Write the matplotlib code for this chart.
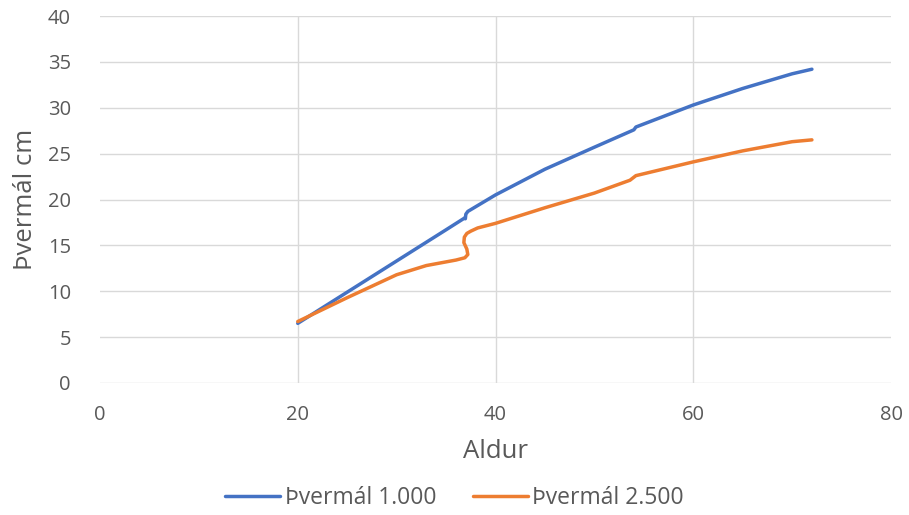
import matplotlib.pyplot as plt

# Aldur (x) og þvermál (y) fyrir tvær þéttleikaraðir
aldur_1000 = [20, 25, 30, 35, 36.9, 36.95, 37.0, 37.2, 40, 45, 50, 53.8, 54.0, 54.2, 60, 65, 70, 72]
tverm_1000 = [6.5, 9.9, 13.3, 16.7, 18.0, 17.9, 18.4, 18.7, 20.5, 23.3, 25.7, 27.5, 27.6, 27.9, 30.3, 32.1, 33.7, 34.2]

aldur_2500 = [20, 25, 30, 33, 36.0, 36.9, 37.2, 37.1, 36.8, 36.85, 37.1, 37.5, 38.2, 40, 45, 50, 53.6, 54.2, 60, 65, 70, 72]
tverm_2500 = [6.7, 9.3, 11.8, 12.8, 13.4, 13.65, 14.0, 14.6, 15.3, 15.9, 16.3, 16.55, 16.9, 17.4, 19.1, 20.7, 22.1, 22.6, 24.1, 25.3, 26.3, 26.5]

x_ticks = [0, 20, 40, 60, 80]
y_ticks = [0, 5, 10, 15, 20, 25, 30, 35, 40]

plt.rcParams['font.family'] = ['Open Sans', 'DejaVu Sans']
grey = '#595959'

fig = plt.figure(figsize=(9.09, 5.15), dpi=100)
ax = fig.add_axes([100 / 909, 1 - 383 / 515, 791 / 909, 367 / 515])

ax.plot(aldur_1000, tverm_1000, color='#4472C4', lw=2.5, label='Þvermál 1.000',
        solid_joinstyle='round', solid_capstyle='round')
ax.plot(aldur_2500, tverm_2500, color='#ED7D31', lw=2.5, label='Þvermál 2.500',
        solid_joinstyle='round', solid_capstyle='round')

ax.set_xlim(0, 80)
ax.set_ylim(0, 40)
ax.set_xticks(x_ticks)
ax.set_yticks(y_ticks)
ax.tick_params(length=0, labelsize=14.5, labelcolor=grey)
ax.tick_params(axis='x', pad=16)
ax.tick_params(axis='y', pad=21)

ax.grid(True, color='#d9d9d9', lw=1)
ax.set_axisbelow(True)
for t, gl in zip(x_ticks, ax.get_xgridlines()):
    if t in (x_ticks[0], x_ticks[-1]):
        gl.set_visible(False)
for s in ax.spines.values():
    s.set_visible(False)

ax.set_xlabel('Aldur', fontsize=18.5, color=grey, labelpad=10)
ax.set_ylabel('Þvermál cm', fontsize=18.5, color=grey, labelpad=7)

fig.legend(loc='center', bbox_to_anchor=(0.5, 1 - 498 / 515), ncol=2, frameon=False,
           fontsize=16.5, labelcolor=grey, handlelength=2.4, columnspacing=1.6,
           handletextpad=0.2)

fig.savefig('out.png', dpi=100)
